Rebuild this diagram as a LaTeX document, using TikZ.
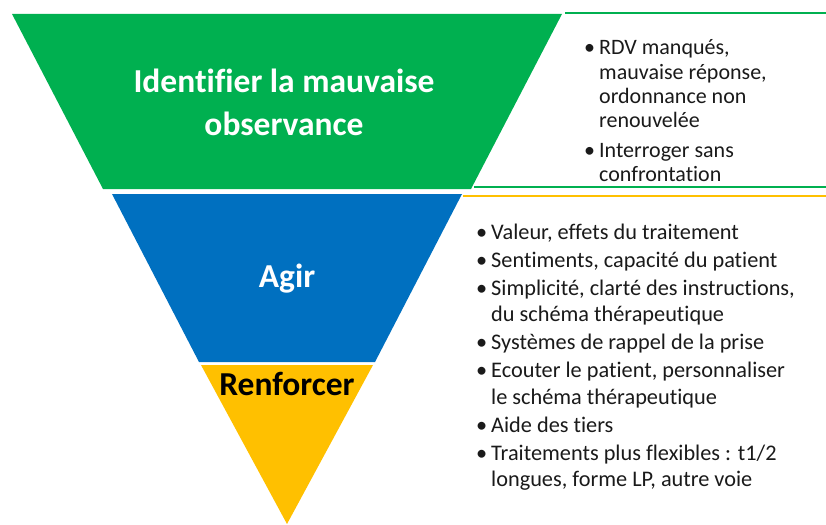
\documentclass[tikz,border=0pt]{standalone}
\usepackage{fontspec}
\setmainfont{Carlito}[Ligatures={NoCommon}]
\definecolor{cgreen}{HTML}{00B050}
\definecolor{cblue}{HTML}{0070C0}
\definecolor{cyellow}{HTML}{FFC000}
\definecolor{ctext}{HTML}{1A1A1A}
\newcommand{\bul}{\makebox[15pt][l]{\textbullet}}
\begin{document}
\begin{tikzpicture}[x=1pt,y=-1pt,
  title/.style={font=\fontsize{33.5}{42}\selectfont\bfseries, align=center, inner sep=0pt},
  listtext/.style={text=ctext, inner sep=0pt, anchor=base west},
  rule/.style={line width=2.4pt}]
\useasboundingbox[fill=white] (0,0) rectangle (826,524);
% funnel shapes
\fill[cgreen] (12,14) -- (562,14) -- (471,189) -- (103,189) -- cycle;
\fill[cblue] (112,194) -- (462,194) -- (375,362) -- (199,362) -- cycle;
\fill[cyellow] (201,365) -- (373,365) -- (287,524) -- cycle;
% rules on the right
\coordinate (g1a) at (565,13.3); \coordinate (g1b) at (826,13.3);
\coordinate (g2a) at (474,186.7); \coordinate (g2b) at (826,186.7);
\coordinate (y1a) at (463,196); \coordinate (y1b) at (826,196);
\draw[rule, cgreen] (g1a) -- (g1b);
\draw[rule, cgreen] (g2a) -- (g2b);
\draw[rule, cyellow] (y1a) -- (y1b);
% titles
\node[title, text=white, anchor=base] (t1) at (284,135) {Identifier la mauvaise\\observance};
\node[title, text=white, anchor=base] (t2) at (287,287) {Agir};
\node[title, text=black, anchor=base] (t3) at (287,395) {Renforcer};
% upper list
\node[listtext] (l1) at (584,55) {\fontsize{22}{24.3}\selectfont
\begin{tabular}[t]{@{}l@{}l@{}}
\bul & RDV manqués,\\
 & mauvaise réponse,\\
 & ordonnance non\\
 & renouvelée\\[5pt]
\bul & Interroger sans\\
 & confrontation
\end{tabular}};
% lower list
\node[listtext] (l2) at (476,239) {\fontsize{22.3}{26.5}\selectfont
\begin{tabular}[t]{@{}l@{}l@{}}
\bul & Valeur, effets du traitement\\[1.5pt]
\bul & Sentiments, capacité du patient\\[1.5pt]
\bul & Simplicité, clarté des instructions,\\
 & du schéma thérapeutique\\[1.5pt]
\bul & Systèmes de rappel de la prise\\[1.5pt]
\bul & Ecouter le patient, personnaliser\\
 & le schéma thérapeutique\\[1.5pt]
\bul & Aide des tiers\\[1.5pt]
\bul & Traitements plus flexibles : t1/2\\
 & longues, forme LP, autre voie
\end{tabular}};
\end{tikzpicture}
\end{document}
